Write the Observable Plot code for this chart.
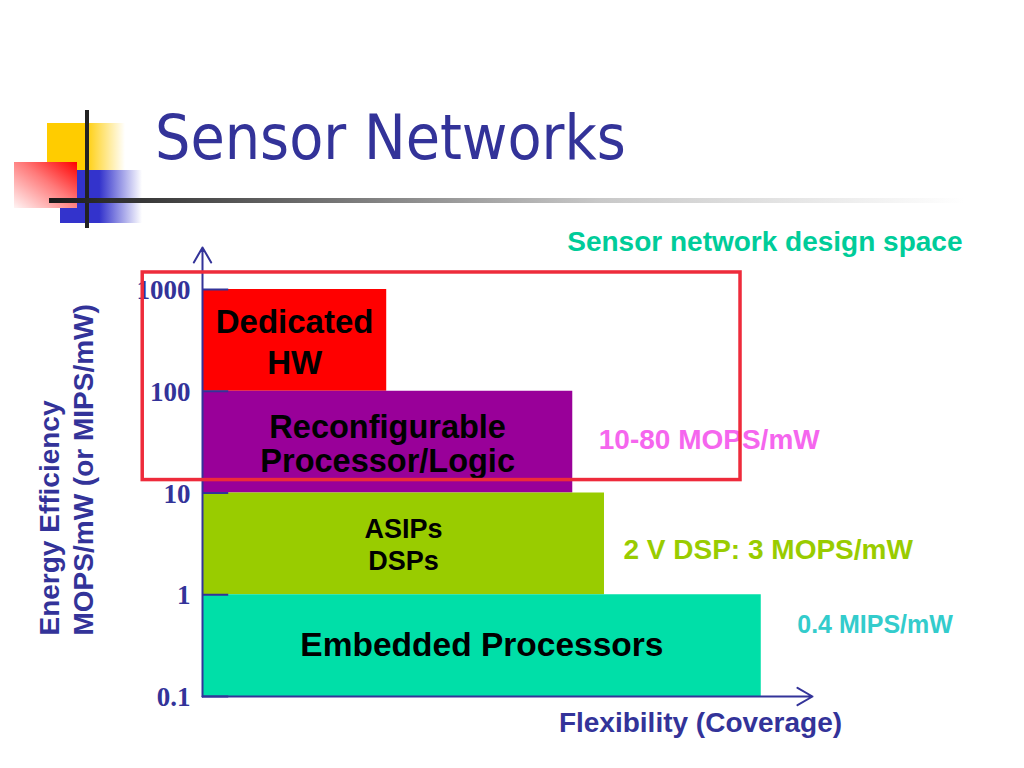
<!DOCTYPE html>
<html>
<head>
<meta charset="utf-8">
<script src="https://cdn.jsdelivr.net/npm/d3@7"></script>
<script src="https://cdn.jsdelivr.net/npm/@observablehq/plot@0.6"></script>
<style>
html, body { margin: 0; padding: 0; background: #ffffff; }
#slide { position: relative; width: 1024px; height: 768px; overflow: hidden; background: #ffffff; }
.deco { position: absolute; }
#title {
  position: absolute; left: 155px; top: 107px;
  font-family: "DejaVu Sans", "Liberation Sans", sans-serif; font-stretch: condensed;
  font-size: 62px; line-height: 62px; color: #333399; white-space: nowrap;
}
#chart { position: absolute; left: 0; top: 0; }
</style>
</head>
<body>
<div id="slide">
  <div class="deco" style="left:47px;top:123px;width:78px;height:47px;background:linear-gradient(to right,#ffcc00 0%,#ffcc00 48%,rgba(255,204,0,0) 100%)"></div>
  <div class="deco" style="left:60px;top:170px;width:82px;height:53px;background:linear-gradient(to right,#3333cc 0%,#3333cc 48%,rgba(51,51,204,0) 100%)"></div>
  <div class="deco" style="left:14px;top:162px;width:63px;height:46px;background:linear-gradient(to bottom left,#ff0000 0%,#ff7a7a 45%,#fff4f4 100%)"></div>
  <div class="deco" style="left:85px;top:110px;width:4px;height:118px;background:#222222"></div>
  <div class="deco" style="left:49px;top:198px;width:915px;height:5px;background:linear-gradient(to right,#1a1a1a 0%,#555555 20%,#c8c8c8 60%,rgba(255,255,255,0) 100%)"></div>
  <div id="title">Sensor Networks</div>
  <div id="chart"></div>
</div>
<script>
// ---- data ----
const categories = ["Dedicated HW", "Reconfigurable Processor/Logic", "ASIPs DSPs", "Embedded Processors"];
const labelLines = ["Dedicated\nHW", "Reconfigurable\nProcessor/Logic", "ASIPs\nDSPs", "Embedded Processors"];
const efficiencyLow = [100, 10, 1, 0.1];
const efficiencyHigh = [1000, 100, 10, 1];
const flexibility = [3.02, 6.07, 6.59, 9.16];
const notes = ["", "10-80 MOPS/mW", "2 V DSP: 3 MOPS/mW", "0.4 MIPS/mW"];
const yTicks = [0.1, 1, 10, 100, 1000];
const yTickLabels = ["0.1", "1", "10", "100", "1000"];
const designSpaceFlex = [-0.98, 8.82];
const designSpaceEff = [13.4, 1470];
const axisEndFlex = 10;
const axisEndEff = 2590;

// ---- styles ----
const blue = "#333399";
const sans = "Liberation Sans, Arial, Helvetica, sans-serif";
const serif = "Liberation Serif, Times New Roman, serif";
const barColors = ["#ff0000", "#990099", "#99cc00", "#00dfa8"];
const labelStyle = [
  {fontSize: 33, lineHeight: 1.24, dy: 0},
  {fontSize: 32.5, lineHeight: 1.03, dy: 2},
  {fontSize: 27, lineHeight: 1.17, dy: 0},
  {fontSize: 33.5, lineHeight: 1, dy: 0}
];
const noteStyle = [
  null,
  {fill: "#f566ee", fontSize: 28, dx: 26, dy: -2},
  {fill: "#99cc00", fontSize: 28, dx: 19, dy: 6},
  {fill: "#33cccc", fontSize: 25, dx: 36, dy: -21}
];

const bars = categories.map((c, i) => ({
  category: c, label: labelLines[i], low: efficiencyLow[i], high: efficiencyHigh[i],
  flex: flexibility[i], note: notes[i]
}));
const ticks = yTicks.map((v, i) => ({v, label: yTickLabels[i]}));
const axes = [
  {x1: 0, y1: yTicks[0], x2: 0, y2: axisEndEff},
  {x1: 0, y1: yTicks[0], x2: axisEndFlex, y2: yTicks[0]}
];
const design = [{x1: designSpaceFlex[0], x2: designSpaceFlex[1], y1: designSpaceEff[0], y2: designSpaceEff[1]}];
const mid = d => Math.sqrt(d.low * d.high);

const marks = [
  Plot.rect(bars, {x1: 0, x2: "flex", y1: "low", y2: "high", fill: "category"}),
  ...labelStyle.map((s, i) => Plot.text(bars, {
    filter: d => d.category === categories[i],
    x: d => d.flex / 2, y: mid, text: "label",
    fill: "#000000", fontFamily: sans, fontWeight: "bold",
    fontSize: s.fontSize, lineHeight: s.lineHeight, dy: s.dy
  })),
  ...noteStyle.map((s, i) => s ? Plot.text(bars, {
    filter: d => d.category === categories[i],
    x: "flex", y: mid, text: "note", textAnchor: "start",
    fill: s.fill, fontSize: s.fontSize, dx: s.dx, dy: s.dy,
    fontFamily: sans, fontWeight: "bold"
  }) : null),
  Plot.ruleY(ticks, {y: "v", x1: 0, x2: 0.43, stroke: blue, strokeWidth: 2}),
  Plot.text(ticks, {
    x: 0, y: "v", text: "label", textAnchor: "end", dx: -12, dy: 1,
    fill: blue, fontFamily: serif, fontWeight: "bold", fontSize: 27
  }),
  Plot.arrow(axes, {x1: "x1", y1: "y1", x2: "x2", y2: "y2", stroke: blue, strokeWidth: 2, headLength: 13}),
  Plot.text(["Energy Efficiency\nMOPS/mW (or MIPS/mW)"], {
    frameAnchor: "bottom-left", text: d => d, rotate: -90, textAnchor: "start",
    lineAnchor: "middle", lineHeight: 1.21, dx: -137, dy: -61,
    fill: blue, fontFamily: sans, fontWeight: "bold", fontSize: 28
  }),
  Plot.text(["Flexibility (Coverage)"], {
    frameAnchor: "bottom", text: d => d, lineAnchor: "middle", dx: 193, dy: 27,
    fill: blue, fontFamily: sans, fontWeight: "bold", fontSize: 28
  }),
  Plot.text(["Sensor network design space"], {
    frameAnchor: "top-right", text: d => d, textAnchor: "end", lineAnchor: "middle", dx: 150, dy: -47,
    fill: "#00cc99", fontFamily: sans, fontWeight: "bold", fontSize: 28
  }),
  Plot.rect(design, {x1: "x1", x2: "x2", y1: "y1", y2: "y2", fill: "none", stroke: "#ee2b3b", strokeWidth: 3.5})
].filter(Boolean);

const chart = Plot.plot({
  width: 1024,
  height: 768,
  marginLeft: 202,
  marginRight: 212,
  marginTop: 289,
  marginBottom: 72,
  x: {domain: [0, axisEndFlex], axis: null},
  y: {type: "log", domain: [yTicks[0], yTicks[yTicks.length - 1]], axis: null},
  color: {domain: categories, range: barColors},
  style: {background: "transparent", overflow: "visible", fontFamily: sans},
  marks
});
document.getElementById("chart").appendChild(chart);
</script>
</body>
</html>
